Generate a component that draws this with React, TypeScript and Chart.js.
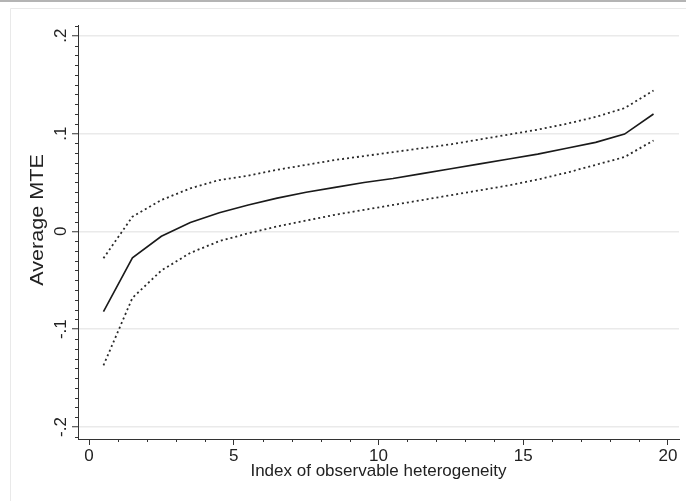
import React, { useEffect, useRef } from "react";
import { Chart, registerables } from "chart.js";

Chart.register(...registerables);

// Index of observable heterogeneity (bin midpoints)
const xValues = [0.5, 1.5, 2.5, 3.5, 4.5, 5.5, 6.5, 7.5, 8.5, 9.5, 10.5, 11.5, 12.5, 13.5, 14.5, 15.5, 16.5, 17.5, 18.5, 19.5];
// Average MTE point estimate
const averageMTE = [-0.082, -0.027, -0.005, 0.009, 0.019, 0.027, 0.034, 0.04, 0.045, 0.05, 0.054, 0.059, 0.064, 0.069, 0.074, 0.079, 0.085, 0.091, 0.0995, 0.12];
// Upper confidence bound
const upperBound = [-0.0275, 0.015, 0.032, 0.044, 0.0525, 0.057, 0.063, 0.068, 0.073, 0.077, 0.081, 0.085, 0.089, 0.094, 0.099, 0.104, 0.11, 0.117, 0.126, 0.144];
// Lower confidence bound
const lowerBound = [-0.137, -0.068, -0.04, -0.022, -0.01, -0.002, 0.005, 0.011, 0.017, 0.022, 0.027, 0.032, 0.037, 0.042, 0.047, 0.053, 0.06, 0.068, 0.076, 0.093];

const xTickValues = [0, 5, 10, 15, 20];
const xTickLabels = ["0", "5", "10", "15", "20"];
const yTickValues = [-0.2, -0.1, 0, 0.1, 0.2];
const yTickLabels = ["-.2", "-.1", "0", ".1", ".2"];

const xTitle = "Index of observable heterogeneity";
const yTitle = "Average MTE";

const FONT = "'Liberation Sans', Arial, Helvetica, sans-serif";

const toPoints = (ys: number[]) => xValues.map((x, i) => ({ x, y: ys[i] }));

const framePlugin = {
  id: "stataFrame",
  beforeDraw(chart: any) {
    const { ctx, width, height } = chart;
    ctx.save();
    ctx.fillStyle = "#ffffff";
    ctx.fillRect(0, 0, width, height);
    ctx.fillStyle = "#b4b4b4";
    ctx.fillRect(0, 0, width, 2);
    ctx.strokeStyle = "#e9e9e9";
    ctx.lineWidth = 1;
    ctx.beginPath();
    ctx.moveTo(10.5, height);
    ctx.lineTo(10.5, 8.5);
    ctx.lineTo(width, 8.5);
    ctx.stroke();
    ctx.restore();
  },
  afterDraw(chart: any) {
    const { ctx, chartArea } = chart;
    const xs = chart.scales.x;
    const ys = chart.scales.y;
    ctx.save();
    ctx.strokeStyle = "#333333";
    ctx.lineWidth = 1;
    ctx.beginPath();
    for (let v = Math.ceil(xs.min); v <= xs.max; v += 1) {
      if (v % 5 === 0) continue;
      const px = Math.round(xs.getPixelForValue(v)) + 0.5;
      ctx.moveTo(px, chartArea.bottom);
      ctx.lineTo(px, chartArea.bottom + 3);
    }
    for (let k = Math.ceil(ys.min * 100); k <= Math.floor(ys.max * 100); k += 1) {
      if (k % 10 === 0) continue;
      const py = Math.round(ys.getPixelForValue(k / 100)) + 0.5;
      ctx.moveTo(chartArea.left, py);
      ctx.lineTo(chartArea.left - 3, py);
    }
    ctx.stroke();
    ctx.restore();

    // y-axis title (rotated, slightly stretched like the original render)
    ctx.save();
    ctx.translate(38, (chartArea.top + chartArea.bottom) / 2 - 12);
    ctx.rotate(-Math.PI / 2);
    ctx.scale(1.2, 1);
    ctx.font = `18px ${FONT}`;
    ctx.fillStyle = "#222222";
    ctx.textAlign = "center";
    ctx.textBaseline = "middle";
    ctx.fillText(yTitle, 0, 0);
    ctx.restore();
  },
};

export default function App() {
  const canvasRef = useRef<HTMLCanvasElement | null>(null);

  useEffect(() => {
    document.body.style.margin = "0";
    const canvas = canvasRef.current;
    if (!canvas) return;
    const chart = new Chart(canvas, {
      type: "line",
      data: {
        datasets: [
          {
            label: "Upper",
            data: toPoints(upperBound),
            borderColor: "#2a2a2a",
            borderWidth: 1.8,
            borderDash: [2, 3],
            pointRadius: 0,
            tension: 0,
          },
          {
            label: "Average MTE",
            data: toPoints(averageMTE),
            borderColor: "#1a1a1a",
            borderWidth: 1.6,
            pointRadius: 0,
            tension: 0,
          },
          {
            label: "Lower",
            data: toPoints(lowerBound),
            borderColor: "#2a2a2a",
            borderWidth: 1.8,
            borderDash: [2, 3],
            pointRadius: 0,
            tension: 0,
          },
        ],
      },
      options: {
        animation: false,
        responsive: false,
        maintainAspectRatio: false,
        layout: { padding: { top: 25, right: 7, left: 10, bottom: 0 } },
        plugins: { legend: { display: false }, tooltip: { enabled: false } },
        scales: {
          x: {
            type: "linear",
            min: -0.38,
            max: 20.38,
            afterBuildTicks: (scale: any) => {
              scale.ticks = xTickValues.map((v) => ({ value: v }));
            },
            afterFit: (scale: any) => {
              scale.height = 62;
            },
            ticks: {
              callback: (v: any) => xTickLabels[xTickValues.indexOf(Number(v))] ?? "",
              font: { family: FONT, size: 17 },
              color: "#222222",
              padding: 1,
              maxRotation: 0,
              minRotation: 0,
              autoSkip: false,
            },
            grid: {
              drawOnChartArea: false,
              tickLength: 6,
              tickColor: "#333333",
              tickWidth: 1,
            },
            border: { display: true, color: "#333333", width: 1 },
            title: {
              display: true,
              text: xTitle,
              font: { family: FONT, size: 17 },
              color: "#222222",
              padding: { top: 0, bottom: 19 },
            },
          },
          y: {
            type: "linear",
            min: -0.2123,
            max: 0.211,
            afterBuildTicks: (scale: any) => {
              scale.ticks = yTickValues.map((v) => ({ value: v }));
            },
            afterFit: (scale: any) => {
              scale.width = 68;
            },
            ticks: {
              callback: (v: any) => {
                const i = yTickValues.findIndex((t) => Math.abs(t - Number(v)) < 1e-9);
                return i >= 0 ? yTickLabels[i] : "";
              },
              font: { family: FONT, size: 17 },
              color: "#222222",
              padding: 1,
              minRotation: 90,
              maxRotation: 90,
              crossAlign: "center",
              autoSkip: false,
            },
            grid: {
              color: "#eaeaea",
              lineWidth: 1.5,
              tickLength: 6,
              tickColor: "#333333",
              tickWidth: 1,
            },
            border: { display: true, color: "#333333", width: 1 },
            title: { display: false },
          },
        },
      },
      plugins: [framePlugin],
    } as any);
    return () => chart.destroy();
  }, []);

  return (
    <div style={{ width: 686, height: 501 }}>
      <canvas ref={canvasRef} width={686} height={501} style={{ display: "block" }} />
    </div>
  );
}
